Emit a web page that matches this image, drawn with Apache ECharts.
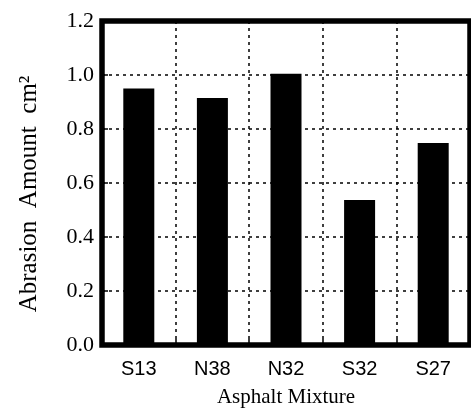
<!DOCTYPE html>
<html>
<head>
<meta charset="utf-8">
<script src="https://cdn.jsdelivr.net/npm/echarts@6/dist/echarts.min.js"></script>
<style>
  html, body { margin: 0; padding: 0; background: #fff; }
  #chart { width: 471px; height: 416px; }
</style>
</head>
<body>
<div id="chart"></div>
<script>
// data
var categories = ['S13', 'N38', 'N32', 'S32', 'S27'];
var abrasion = [0.95, 0.915, 1.005, 0.537, 0.748];
var yTicks = [0, 0.2, 0.4, 0.6, 0.8, 1.0, 1.2];

var serif = '"Liberation Serif", "Times New Roman", serif';
var sans = '"Liberation Sans", Arial, sans-serif';

var chart = echarts.init(document.getElementById('chart'));
var option = {
  animation: false,
  grid: {
    left: 102,
    right: 1,
    top: 21,
    bottom: 71,
    show: true,
    borderWidth: 5.5,
    borderColor: '#000'
  },
  xAxis: {
    type: 'category',
    data: categories,
    name: 'Asphalt Mixture',
    nameLocation: 'middle',
    nameGap: 42,
    nameTextStyle: { fontFamily: serif, fontSize: 21, color: '#000' },
    axisLine: { show: false },
    axisTick: { show: true, inside: true, length: 6, lineStyle: { color: '#000', width: 1.5 } },
    axisLabel: { fontFamily: sans, fontSize: 20, color: '#000', margin: 14 },
    splitLine: {
      show: true,
      lineStyle: { color: '#000', width: 1.5, type: [3, 4] }
    }
  },
  yAxis: {
    type: 'value',
    min: yTicks[0],
    max: yTicks[yTicks.length - 1],
    interval: 0.2,
    name: 'Abrasion  Amount  cm²',
    nameLocation: 'middle',
    nameRotate: 90,
    nameGap: 60,
    nameTextStyle: { fontFamily: serif, fontSize: 25, color: '#000', padding: [0, 22, 0, 0] },
    axisLine: { show: false },
    axisTick: { show: true, inside: true, length: 6, lineStyle: { color: '#000', width: 1.5 } },
    axisLabel: {
      fontFamily: serif, fontSize: 22, color: '#000', margin: 8,
      formatter: function (v) { return v.toFixed(1); }
    },
    splitLine: {
      show: true,
      lineStyle: { color: '#000', width: 1.5, type: [3, 4] }
    }
  },
  series: [{
    type: 'bar',
    data: abrasion,
    barWidth: 31,
    itemStyle: { color: '#000' }
  }]
};
chart.setOption(option);
</script>
</body>
</html>
